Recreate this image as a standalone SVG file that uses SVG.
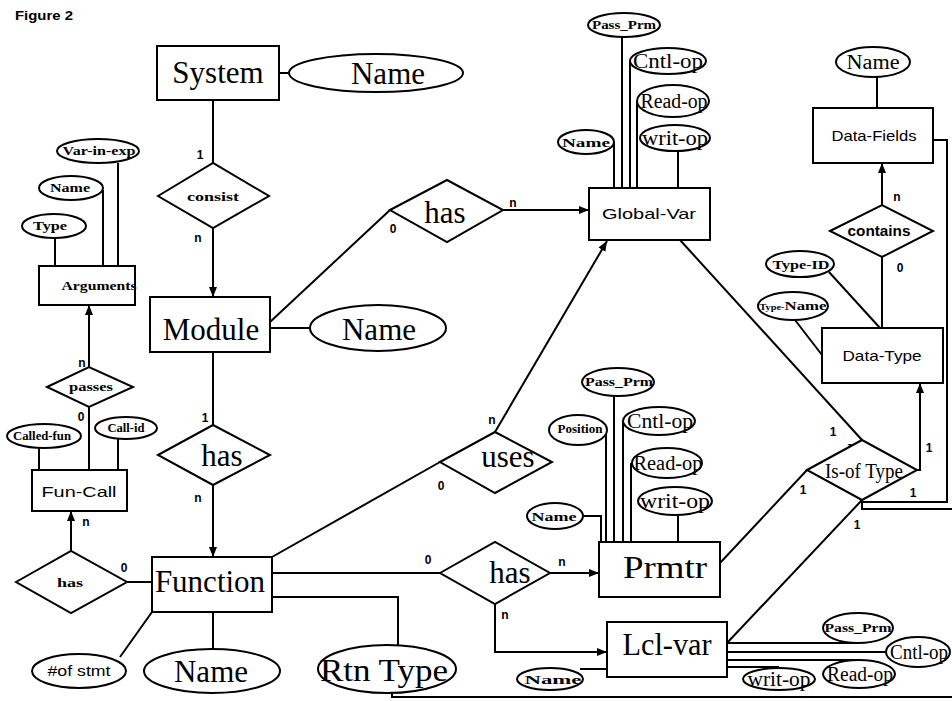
<svg xmlns="http://www.w3.org/2000/svg" width="952" height="701" viewBox="0 0 952 701">
  <defs>
    <marker id="arrow" viewBox="0 0 10 10" refX="10" refY="5" markerWidth="10" markerHeight="10" markerUnits="userSpaceOnUse" orient="auto">
      <path d="M0,1 L10,5 L0,9 Z" fill="#000"/>
    </marker>
  </defs>
  <style>
    .box { fill: #fff; stroke: #000; stroke-width: 2; }
    .rel { fill: #fff; stroke: #000; stroke-width: 2; stroke-linejoin: miter; }
    .att { fill: #fff; stroke: #000; stroke-width: 2; }
    .ln { fill: none; stroke: #000; stroke-width: 2; }
    .arr { fill: none; stroke: #000; stroke-width: 2; marker-end: url(#arrow); }
    text { fill: #000; text-anchor: middle; }
    .big { font-family: "Liberation Serif", "Times New Roman", serif; font-size: 31px; }
    .mid { font-family: "Liberation Serif", "Times New Roman", serif; font-size: 20px; }
    .sml { font-family: "Liberation Serif", "Times New Roman", serif; font-size: 12px; font-weight: bold; }
    .sans { font-family: "Liberation Sans", Arial, sans-serif; font-size: 15px; }
    .card { font-family: "Liberation Sans", Arial, sans-serif; font-size: 12px; font-weight: bold; }
  </style>

  <text x="15" y="20" style="text-anchor:start" class="card" font-size="13" textLength="58" lengthAdjust="spacingAndGlyphs">Figure 2</text>

  <!-- connectors -->
  <g id="connectors">
    <path class="ln" d="M279,73 H290"/>
    <path class="ln" d="M213,100 V163"/>
    <path class="arr" d="M213,228 V297"/>
    <path class="ln" d="M270,328 H310"/>
    <path class="ln" d="M270,322 L390,210"/>
    <path class="arr" d="M503,210 H589"/>
    <path class="ln" d="M213,352 V425"/>
    <path class="arr" d="M213,485 V557"/>
    <path class="ln" d="M272,557 L440,462"/>
    <path class="arr" d="M495,432 L607,241"/>
    <path class="ln" d="M272,573 H440"/>
    <path class="arr" d="M550,573 H599"/>
    <path class="arr" d="M495,604 V652 H607"/>
    <path class="ln" d="M272,597 H398 V645"/>
    <path class="ln" d="M392,692 V697 H952"/>
    <path class="ln" d="M152,612 L120,657"/>
    <path class="ln" d="M213,612 V649"/>
    <path class="ln" d="M127,582 H152"/>
    <path class="arr" d="M71,551 V511"/>
    <path class="ln" d="M89,407 V470"/>
    <path class="arr" d="M89,367 V305"/>
    <path class="ln" d="M39,448 V470"/>
    <path class="ln" d="M118,439 V470"/>
    <path class="ln" d="M118,163 V266"/>
    <path class="ln" d="M103,190 V266"/>
    <path class="ln" d="M55,238 V266"/>
    <!-- Global-Var attributes -->
    <path class="ln" d="M614,142 V188"/>
    <path class="ln" d="M622,37 V188"/>
    <path class="ln" d="M630,61 V188"/>
    <path class="ln" d="M637,101 V188"/>
    <path class="ln" d="M678,151 V188"/>
    <!-- Is-of Type links -->
    <path class="ln" d="M680,240 L862,440"/>
    <path class="ln" d="M720,563 L807,470"/>
    <path class="ln" d="M727,643 L862,500"/>
    <path class="arr" d="M917,470 H920 V383"/>
    <path class="ln" d="M933,140 H947 V502 H862"/>
    <path class="ln" d="M862,502 V509 H952"/>
    <!-- Data-Type / Data-Fields -->
    <path class="ln" d="M829,272 L880,328"/>
    <path class="ln" d="M795,320 L822,355"/>
    <path class="ln" d="M882,257 V328"/>
    <path class="arr" d="M882,205 V163"/>
    <path class="ln" d="M877,77 V108"/>
    <!-- Prmtr attributes -->
    <path class="ln" d="M583,516 H601 V542"/>
    <path class="ln" d="M606,432 V542"/>
    <path class="ln" d="M614,396 V542"/>
    <path class="ln" d="M623,421 V542"/>
    <path class="ln" d="M631,463 V542"/>
    <path class="ln" d="M678,515 V542"/>
    <!-- Lcl-var attributes -->
    <path class="ln" d="M727,643 H858"/>
    <path class="ln" d="M727,652 H886"/>
    <path class="ln" d="M727,660 H859"/>
    <path class="ln" d="M727,667 H779"/>
    <path class="ln" d="M580,669 H607"/>
  </g>

  <!-- cardinalities -->
  <g id="cardinalities" class="card">
    <text x="200" y="159">1</text>
    <text x="198" y="242">n</text>
    <text x="393" y="233">0</text>
    <text x="513" y="207">n</text>
    <text x="205" y="422">1</text>
    <text x="198" y="502">n</text>
    <text x="82" y="367">n</text>
    <text x="81" y="421">0</text>
    <text x="86" y="526">n</text>
    <text x="124" y="572">0</text>
    <text x="492" y="424">n</text>
    <text x="441" y="490">0</text>
    <text x="428" y="564">0</text>
    <text x="562" y="566">n</text>
    <text x="505" y="619">n</text>
    <text x="897" y="201">n</text>
    <text x="900" y="272">0</text>
    <text x="833" y="436">1</text>
    <text x="849" y="452" transform="rotate(30 849 448)">1</text>
    <text x="803" y="494">1</text>
    <text x="929" y="452">1</text>
    <text x="913" y="497">1</text>
    <text x="857" y="529">1</text>
  </g>

  <!-- entities and relationships -->
  <g id="system">
    <rect class="box" x="157" y="46" width="122" height="54"/>
    <text class="big" x="218" y="83" font-size="32">System</text>
  </g>
  <g id="system-name">
    <ellipse class="att" cx="376" cy="73" rx="87" ry="19"/>
    <text class="big" x="388" y="84" font-size="32">Name</text>
  </g>
  <g id="consist">
    <polygon class="rel" points="158,196 213,163 269,196 213,228"/>
    <text class="sml" x="213" y="201" font-size="15" textLength="52" lengthAdjust="spacingAndGlyphs">consist</text>
  </g>
  <g id="module">
    <rect class="box" x="150" y="297" width="120" height="55"/>
    <text class="big" x="211" y="340">Module</text>
  </g>
  <g id="module-name">
    <ellipse class="att" cx="378" cy="328" rx="68" ry="23"/>
    <text class="big" x="379" y="340">Name</text>
  </g>
  <g id="has-module-function">
    <polygon class="rel" points="158,455 213,425 270,455 213,485"/>
    <text class="big" x="222" y="466">has</text>
  </g>
  <g id="has-global">
    <polygon class="rel" points="390,210 447,180 503,210 447,242"/>
    <text class="big" x="445" y="223" font-size="33">has</text>
  </g>
  <g id="global-var">
    <rect class="box" x="589" y="188" width="121" height="52"/>
    <text class="sans" x="649" y="219" textLength="94" lengthAdjust="spacingAndGlyphs">Global-Var</text>
  </g>
  <g id="gv-pass-prm">
    <ellipse class="att" cx="624" cy="25" rx="36" ry="12"/>
    <text class="sml" x="624" y="29" textLength="64" lengthAdjust="spacingAndGlyphs">Pass_Prm</text>
  </g>
  <g id="gv-cntl-op">
    <ellipse class="att" cx="668" cy="61" rx="38" ry="13"/>
    <text class="mid" x="668" y="68" textLength="70" lengthAdjust="spacingAndGlyphs">Cntl-op</text>
  </g>
  <g id="gv-read-op">
    <ellipse class="att" cx="673" cy="101" rx="36" ry="16"/>
    <text class="mid" x="674" y="108" textLength="67" lengthAdjust="spacingAndGlyphs">Read-op</text>
  </g>
  <g id="gv-name">
    <ellipse class="att" cx="586" cy="142" rx="28" ry="12"/>
    <text class="sml" x="586" y="147" font-size="14" textLength="48" lengthAdjust="spacingAndGlyphs">Name</text>
  </g>
  <g id="gv-writ-op">
    <ellipse class="att" cx="675" cy="138" rx="35" ry="13"/>
    <text class="mid" x="675" y="145" textLength="66" lengthAdjust="spacingAndGlyphs">writ-op</text>
  </g>
  <g id="arguments">
    <rect class="box" x="39" y="266" width="96" height="39"/>
    <text class="sml" x="99" y="290" textLength="75" lengthAdjust="spacingAndGlyphs">Arguments</text>
  </g>
  <g id="arg-var-in-exp">
    <ellipse class="att" cx="98" cy="151" rx="41" ry="12"/>
    <text class="sml" x="99" y="155" textLength="73" lengthAdjust="spacingAndGlyphs">Var-in-exp</text>
  </g>
  <g id="arg-name">
    <ellipse class="att" cx="71" cy="188" rx="32" ry="12"/>
    <text class="sml" x="70" y="192" textLength="40" lengthAdjust="spacingAndGlyphs">Name</text>
  </g>
  <g id="arg-type">
    <ellipse class="att" cx="54" cy="226" rx="32" ry="12"/>
    <text class="sml" x="50" y="230" font-size="14" textLength="34" lengthAdjust="spacingAndGlyphs">Type</text>
  </g>
  <g id="passes">
    <polygon class="rel" points="47,387 89,367 133,387 89,407"/>
    <text class="sml" x="91" y="391" textLength="44" lengthAdjust="spacingAndGlyphs">passes</text>
  </g>
  <g id="fun-call">
    <rect class="box" x="32" y="470" width="95" height="41"/>
    <text class="sans" x="79" y="497" font-size="17" textLength="75" lengthAdjust="spacingAndGlyphs">Fun-Call</text>
  </g>
  <g id="called-fun">
    <ellipse class="att" cx="44" cy="436" rx="37" ry="12"/>
    <text class="sml" x="42" y="440" font-size="11" textLength="58" lengthAdjust="spacingAndGlyphs">Called-fun</text>
  </g>
  <g id="call-id">
    <ellipse class="att" cx="126" cy="428" rx="31" ry="11"/>
    <text class="sml" x="126" y="432" font-size="11" textLength="37" lengthAdjust="spacingAndGlyphs">Call-id</text>
  </g>
  <g id="has-function-funcall">
    <polygon class="rel" points="16,582 71,551 127,582 71,613"/>
    <text class="sml" x="70" y="587" font-size="14" textLength="26" lengthAdjust="spacingAndGlyphs">has</text>
  </g>
  <g id="function">
    <rect class="box" x="152" y="557" width="120" height="55"/>
    <text class="big" x="210" y="592" font-size="32">Function</text>
  </g>
  <g id="fn-stmt">
    <ellipse class="att" cx="79" cy="671" rx="47" ry="17"/>
    <text class="sans" x="79" y="676" font-size="13" textLength="63" lengthAdjust="spacingAndGlyphs">#of stmt</text>
  </g>
  <g id="fn-name">
    <ellipse class="att" cx="212" cy="671" rx="68" ry="22"/>
    <text class="big" x="211" y="682">Name</text>
  </g>
  <g id="fn-rtn-type">
    <ellipse class="att" cx="387" cy="669" rx="69" ry="24"/>
    <text class="big" x="384" y="681" font-size="33" textLength="128" lengthAdjust="spacingAndGlyphs">Rtn Type</text>
  </g>
  <g id="uses">
    <polygon class="rel" points="440,462 495,432 552,462 495,493"/>
    <text class="big" x="508" y="467">uses</text>
  </g>
  <g id="has-function-local">
    <polygon class="rel" points="440,573 495,542 550,573 495,604"/>
    <text class="big" x="510" y="583" font-size="32">has</text>
  </g>
  <g id="prmtr">
    <rect class="box" x="599" y="542" width="121" height="55"/>
    <text class="big" x="665" y="578" font-size="34" textLength="84" lengthAdjust="spacingAndGlyphs">Prmtr</text>
  </g>
  <g id="prm-pass-prm">
    <ellipse class="att" cx="618" cy="382" rx="36" ry="14"/>
    <text class="sml" x="619" y="386" textLength="68" lengthAdjust="spacingAndGlyphs">Pass_Prm</text>
  </g>
  <g id="prm-position">
    <ellipse class="att" cx="578" cy="430" rx="29" ry="15"/>
    <text class="sml" x="580" y="433" font-size="9" textLength="45" lengthAdjust="spacingAndGlyphs">Position</text>
  </g>
  <g id="prm-cntl-op">
    <ellipse class="att" cx="659" cy="421" rx="36" ry="14"/>
    <text class="mid" x="660" y="428" textLength="66" lengthAdjust="spacingAndGlyphs">Cntl-op</text>
  </g>
  <g id="prm-read-op">
    <ellipse class="att" cx="667" cy="463" rx="35" ry="15"/>
    <text class="mid" x="668" y="470" textLength="69" lengthAdjust="spacingAndGlyphs">Read-op</text>
  </g>
  <g id="prm-writ-op">
    <ellipse class="att" cx="675" cy="501" rx="37" ry="14"/>
    <text class="mid" x="675" y="508" textLength="70" lengthAdjust="spacingAndGlyphs">writ-op</text>
  </g>
  <g id="prm-name">
    <ellipse class="att" cx="555" cy="516" rx="28" ry="13"/>
    <text class="sml" x="554" y="521" font-size="14" textLength="45" lengthAdjust="spacingAndGlyphs">Name</text>
  </g>
  <g id="lcl-var">
    <rect class="box" x="607" y="622" width="120" height="55"/>
    <text class="big" x="667" y="655" font-size="30" textLength="89" lengthAdjust="spacingAndGlyphs">Lcl-var</text>
  </g>
  <g id="lv-name">
    <ellipse class="att" cx="550" cy="679" rx="33" ry="11"/>
    <text class="sml" x="553" y="684" font-size="15" textLength="57" lengthAdjust="spacingAndGlyphs">Name</text>
  </g>
  <g id="lv-pass-prm">
    <ellipse class="att" cx="858" cy="628" rx="35" ry="15"/>
    <text class="sml" x="858" y="632" textLength="67" lengthAdjust="spacingAndGlyphs">Pass_Prm</text>
  </g>
  <g id="lv-cntl-op">
    <ellipse class="att" cx="918" cy="652" rx="32" ry="15"/>
    <text class="mid" x="919" y="659" textLength="58" lengthAdjust="spacingAndGlyphs">Cntl-op</text>
  </g>
  <g id="lv-read-op">
    <ellipse class="att" cx="859" cy="674" rx="36" ry="14"/>
    <text class="mid" x="860" y="681" textLength="66" lengthAdjust="spacingAndGlyphs">Read-op</text>
  </g>
  <g id="lv-writ-op">
    <ellipse class="att" cx="779" cy="679" rx="36" ry="11"/>
    <text class="mid" x="779" y="686" textLength="63" lengthAdjust="spacingAndGlyphs">writ-op</text>
  </g>
  <g id="is-of-type">
    <polygon class="rel" points="807,470 862,440 917,470 862,500"/>
    <text class="mid" x="864" y="478" font-size="19" textLength="78" lengthAdjust="spacingAndGlyphs">Is-of Type</text>
  </g>
  <g id="data-type">
    <rect class="box" x="822" y="328" width="121" height="55"/>
    <text class="sans" x="882" y="361" font-size="16" textLength="79" lengthAdjust="spacingAndGlyphs">Data-Type</text>
  </g>
  <g id="type-id">
    <ellipse class="att" cx="800" cy="264" rx="34" ry="13"/>
    <text class="sml" x="801" y="269" font-size="13" textLength="57" lengthAdjust="spacingAndGlyphs">Type-ID</text>
  </g>
  <g id="type-name">
    <ellipse class="att" cx="793" cy="306" rx="35" ry="14"/>
    <text class="sml" x="793" y="310" textLength="67" lengthAdjust="spacingAndGlyphs"><tspan font-size="8">Type-</tspan><tspan font-size="13">Name</tspan></text>
  </g>
  <g id="contains">
    <polygon class="rel" points="830,231 882,205 933,231 882,257"/>
    <text class="sans" x="879" y="236" font-size="14" font-weight="bold" textLength="63" lengthAdjust="spacingAndGlyphs">contains</text>
  </g>
  <g id="data-fields">
    <rect class="box" x="813" y="108" width="120" height="55"/>
    <text class="sans" x="874" y="141" font-size="16" textLength="85" lengthAdjust="spacingAndGlyphs">Data-Fields</text>
  </g>
  <g id="df-name">
    <ellipse class="att" cx="873" cy="62" rx="37" ry="15"/>
    <text class="mid" x="873" y="69" font-size="19" textLength="53" lengthAdjust="spacingAndGlyphs">Name</text>
  </g>
</svg>
